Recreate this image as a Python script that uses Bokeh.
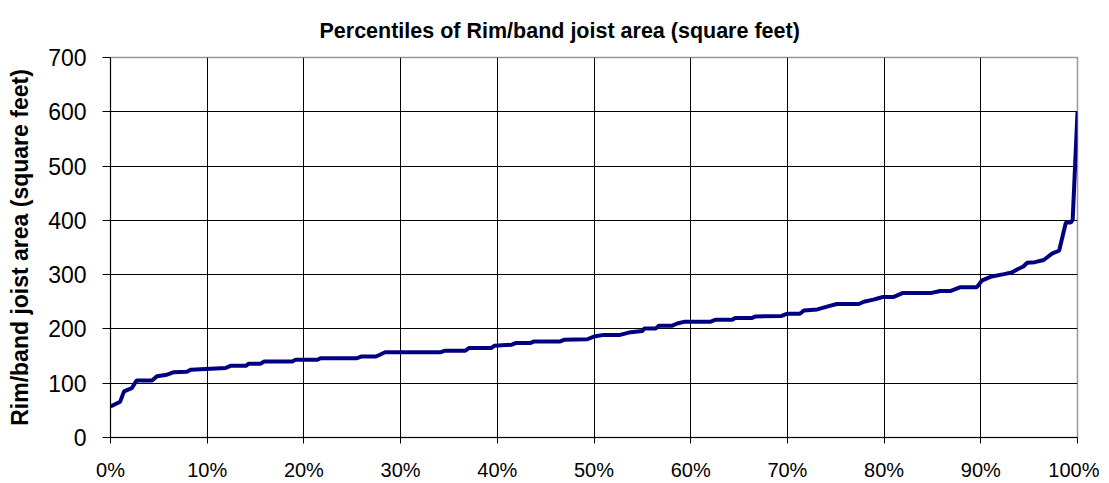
from bokeh.plotting import figure
from bokeh.models import FixedTicker, PrintfTickFormatter, Range1d, Title
from bokeh.embed import file_html
from bokeh.resources import INLINE

# percentile (%) and value (square feet)
percentiles = [0, 1.0, 1.4, 2.2, 2.7, 4.3, 4.8, 5.7, 6.5, 7.9, 8.3, 11.9, 12.4, 14.0, 14.3,
               15.5, 15.9, 18.8, 19.1, 21.4, 21.7, 25.5, 25.9, 27.4, 27.8, 28.4, 34.1, 34.6,
               36.7, 37.1, 39.4, 39.7, 41.5, 41.9, 43.4, 43.8, 46.5, 46.9, 49.3, 50.0, 51.0,
               52.7, 53.8, 55.0, 55.2, 56.4, 56.7, 58.1, 58.6, 59.3, 62.0, 62.6, 64.3, 64.6,
               66.3, 66.7, 69.4, 70.0, 71.3, 71.7, 73.1, 74.1, 75.1, 77.4, 77.9, 78.9, 79.5,
               79.9, 81.0, 81.9, 84.8, 85.8, 86.9, 87.9, 89.6, 90.1, 91.0, 92.4, 93.2, 93.8,
               94.4, 94.8, 95.6, 96.5, 97.4, 98.1, 98.8, 99.3, 99.5, 100]
area_sqft = [57, 66, 85, 91, 105, 105, 113, 115, 120, 121, 125, 128, 132, 132, 136,
             136, 140, 140, 143, 143, 146, 146, 149, 149, 152, 157, 157, 160,
             160, 165, 165, 169, 171, 174, 174, 177, 177, 180, 181, 186, 189,
             189, 194, 196, 201, 201, 206, 206, 210, 213, 213, 217, 217, 220,
             220, 223, 224, 228, 228, 234, 236, 241, 246, 246, 250, 254, 257,
             259, 259, 266, 266, 270, 270, 277, 277, 289, 296, 301, 304, 310,
             315, 322, 323, 327, 339, 344, 396, 396, 401, 600]

x_ticks = list(range(0, 101, 10))
y_ticks = list(range(0, 701, 100))
title_text = "Percentiles of Rim/band joist area (square feet)"

FONT = "Liberation Sans"

p = figure(width=1099, height=483, output_backend="svg", toolbar_location=None,
           x_range=Range1d(0, 100), y_range=Range1d(0, 700),
           min_border_left=110, min_border_right=22, min_border_top=57, min_border_bottom=45)
p.title = Title(text=title_text, align="left", offset=209, text_font=FONT,
                text_font_size="21.5px", text_font_style="bold", text_color="black")
p.title.standoff = 29

p.line(percentiles, area_sqft, line_color="#000080", line_width=4)

p.xaxis.ticker = FixedTicker(ticks=x_ticks)
p.xaxis.formatter = PrintfTickFormatter(format="%d%%")
p.yaxis.ticker = FixedTicker(ticks=y_ticks)
p.yaxis.axis_label = "Rim/band joist area (square feet)"
p.yaxis.axis_label_text_font = FONT
p.yaxis.axis_label_text_font_size = "23px"
p.yaxis.axis_label_text_font_style = "bold"
p.yaxis.axis_label_text_color = "black"
p.yaxis.axis_label_standoff = 12

for ax in (p.xaxis, p.yaxis):
    ax.major_label_text_font = FONT
    ax.major_label_text_color = "black"
    ax.axis_line_color = "black"
    ax.major_tick_line_color = "black"
    ax.minor_tick_line_color = None
    ax.major_tick_in = 0
p.xaxis.major_tick_out = 6
p.yaxis.major_tick_out = 8
p.xaxis.major_label_text_font_size = "20px"
p.yaxis.major_label_text_font_size = "23px"
p.yaxis.major_label_standoff = 16
p.xaxis.major_label_standoff = 15

p.xgrid.grid_line_color = "black"
p.ygrid.grid_line_color = "black"
p.xgrid.grid_line_alpha = 1
p.ygrid.grid_line_alpha = 1
p.outline_line_color = "#999999"
p.outline_line_width = 1.5
p.background_fill_color = "white"
p.border_fill_color = "white"

open("out.html", "w").write(file_html(p, INLINE))
